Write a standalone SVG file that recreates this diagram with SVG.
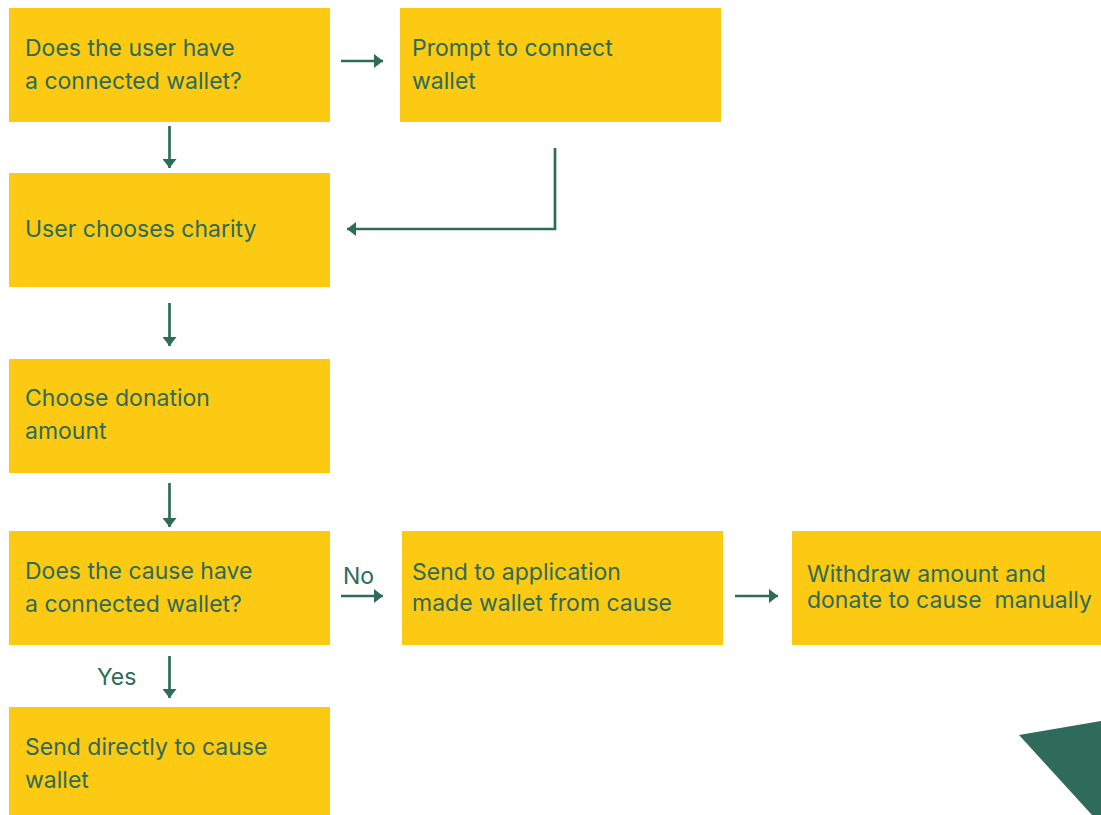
<svg xmlns="http://www.w3.org/2000/svg" width="1101" height="815" viewBox="0 0 1101 815">
<defs>
<style>
.box{fill:#FCC913}
.t{font-family:Inter,"Liberation Sans",sans-serif;font-size:23px;fill:#2E6B58}
.c{stroke:#2E6B58;stroke-width:2.7;fill:none}
</style>
<marker id="ah" markerWidth="9" markerHeight="14" refX="9" refY="7" orient="auto" markerUnits="userSpaceOnUse">
<path d="M0,0 L9,7 L0,14 Z" fill="#2E6B58"/>
</marker>
</defs>
<rect width="1101" height="815" fill="#fff"/>
<g id="n1"><rect class="box" x="9" y="8" width="321" height="114"/><text class="t" x="25" y="56">Does the user have</text><text class="t" x="25" y="89">a connected wallet?</text></g>
<g id="n2"><rect class="box" x="400" y="8" width="321" height="114"/><text class="t" x="412" y="56">Prompt to connect</text><text class="t" x="412" y="89">wallet</text></g>
<g id="n3"><rect class="box" x="9" y="173" width="321" height="114"/><text class="t" x="25" y="237">User chooses charity</text></g>
<g id="n4"><rect class="box" x="9" y="359" width="321" height="114"/><text class="t" x="25" y="406">Choose donation</text><text class="t" x="25" y="439">amount</text></g>
<g id="n5"><rect class="box" x="9" y="531" width="321" height="114"/><text class="t" x="25" y="579">Does the cause have</text><text class="t" x="25" y="612">a connected wallet?</text></g>
<g id="n6"><rect class="box" x="9" y="707" width="321" height="108"/><text class="t" x="25" y="755">Send directly to cause</text><text class="t" x="25" y="788">wallet</text></g>
<g id="n7"><rect class="box" x="402" y="531" width="321" height="114"/><text class="t" x="412" y="580">Send to application</text><text class="t" x="412" y="611">made wallet from cause</text></g>
<g id="n8"><rect class="box" x="792" y="531" width="309" height="114"/><text class="t" x="807" y="582">Withdraw amount and</text><text class="t" x="807" y="608" xml:space="preserve">donate to cause  manually</text></g>
<g id="connectors">
<line class="c" x1="341" y1="61" x2="383" y2="61" marker-end="url(#ah)"/>
<line class="c" x1="169.5" y1="126" x2="169.5" y2="168" marker-end="url(#ah)"/>
<polyline class="c" points="555,148 555,229 347,229" marker-end="url(#ah)"/>
<line class="c" x1="169.5" y1="303" x2="169.5" y2="346" marker-end="url(#ah)"/>
<line class="c" x1="169.5" y1="483" x2="169.5" y2="527" marker-end="url(#ah)"/>
<line class="c" x1="341" y1="596" x2="383" y2="596" marker-end="url(#ah)"/>
<line class="c" x1="169.5" y1="656" x2="169.5" y2="698" marker-end="url(#ah)"/>
<line class="c" x1="735" y1="596" x2="778" y2="596" marker-end="url(#ah)"/>
<text class="t" x="343" y="584">No</text>
<text class="t" x="97" y="685">Yes</text>
</g>
<polygon points="1019,735 1101,721 1101,815 1092,815" fill="#2E6B5A"/>
</svg>
